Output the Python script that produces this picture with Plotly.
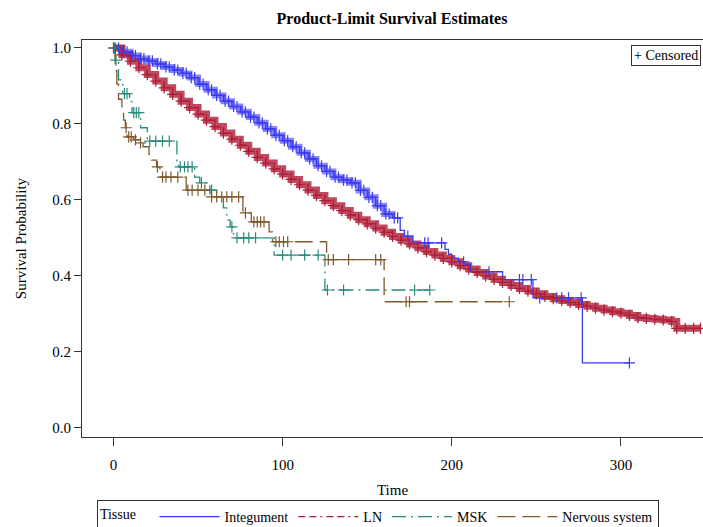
import plotly.graph_objects as go

# ---------------- data ----------------
# Integument (blue)
integ_t = [0, 5, 10, 15, 20, 25, 30, 35, 40, 45, 50, 55, 60, 65, 70, 75, 80, 85, 90, 95,
           100, 105, 110, 115, 120, 125, 130, 135, 140, 145, 150, 155, 160, 165, 169.5,
           172, 177, 196, 198, 200, 204, 208, 211, 230, 248, 277.2, 305]
integ_s = [1.0, 0.99, 0.98, 0.972, 0.966, 0.958, 0.95, 0.942, 0.933, 0.922, 0.905, 0.89,
           0.875, 0.86, 0.846, 0.832, 0.818, 0.803, 0.787, 0.77, 0.756, 0.74, 0.724, 0.708,
           0.69, 0.675, 0.66, 0.652, 0.645, 0.625, 0.607, 0.585, 0.563, 0.553, 0.52,
           0.505, 0.487, 0.47, 0.457, 0.447, 0.437, 0.43, 0.411, 0.39, 0.342, 0.171, 0.171]
integ_cens = [1, 3, 6, 8, 11, 13, 16, 18, 21, 23, 26, 28, 31, 33, 36, 38, 41, 43, 46, 48,
              51, 53, 56, 58, 61, 63, 66, 68, 71, 73, 76, 78, 81, 83, 86, 88, 91, 93, 96,
              98, 101, 103, 106, 108, 111, 113, 116, 118, 121, 123, 126, 128, 131, 133,
              136, 138, 141, 143, 146, 148, 151, 153, 156, 158, 161, 163, 166, 168, 174,
              184, 186, 194, 207, 222, 240, 242, 247, 252, 262, 265, 269, 276.5, 305]
integ_dense_n = 34  # number of leading points inside the densely censored stretch

# LN (red)
ln_t = [0, 5, 10, 15, 20, 25, 30, 35, 40, 45, 50, 55, 60, 65, 70, 75, 80, 85, 90, 95,
        100, 105, 110, 115, 120, 125, 130, 135, 140, 145, 150, 155, 160, 165, 170, 175,
        180, 185, 190, 195, 200, 205, 210, 215, 220, 225, 230, 235, 240, 245, 250, 255,
        260, 265, 270, 275, 280, 285, 290, 295, 300, 305, 310, 315, 320, 325, 330, 333,
        338, 343, 347]
ln_s = [1.0, 0.982, 0.965, 0.948, 0.93, 0.913, 0.895, 0.878, 0.86, 0.843, 0.826, 0.81,
        0.793, 0.776, 0.76, 0.744, 0.728, 0.712, 0.697, 0.682, 0.668, 0.654, 0.64, 0.626,
        0.612, 0.598, 0.585, 0.572, 0.56, 0.548, 0.537, 0.526, 0.515, 0.504, 0.494, 0.484,
        0.474, 0.464, 0.455, 0.446, 0.437, 0.427, 0.418, 0.409, 0.4, 0.391, 0.383, 0.375,
        0.367, 0.36, 0.353, 0.346, 0.34, 0.335, 0.33, 0.325, 0.32, 0.315, 0.31, 0.306,
        0.302, 0.296, 0.29, 0.288, 0.286, 0.284, 0.28, 0.262, 0.262, 0.262, 0.262]

# MSK (teal)
msk_t = [0, 1, 3, 5.5, 9.5, 11, 16, 20, 37.5, 38.5, 48, 51, 57, 61, 65, 67, 69, 71, 95,
         125, 187]
msk_s = [1.0, 0.968, 0.916, 0.88, 0.858, 0.83, 0.79, 0.755, 0.697, 0.687, 0.66, 0.645,
         0.626, 0.608, 0.579, 0.547, 0.529, 0.5, 0.455, 0.363, 0.363]
msk_cens = [0.5, 1.5, 6.5, 8, 12, 13.5, 15, 21.5, 25, 29, 33, 39.5, 42, 44, 46.5, 52, 58,
            70, 73, 77, 80, 84, 100, 105, 113, 121, 126.5, 136, 178, 187]

# Nervous system (brown)
ns_t = [0, 1, 2, 3, 5, 6, 7, 8, 12, 15.5, 17.5, 21, 22.5, 25.5, 27.5, 43, 57, 76.5,
        81.5, 92, 94, 126, 160, 234]
ns_s = [1.0, 0.94, 0.905, 0.865, 0.83, 0.81, 0.79, 0.766, 0.758, 0.75, 0.74, 0.72,
        0.705, 0.687, 0.66, 0.626, 0.608, 0.566, 0.542, 0.516, 0.49, 0.443, 0.332, 0.332]
ns_cens = [7.5, 9, 10.5, 13, 16, 26, 29, 31, 34, 38, 44, 46.5, 50, 54, 58, 61, 64, 67,
           70, 74, 78, 83, 85, 87, 89, 96, 98, 100.5, 103, 127, 130, 139, 155, 158, 173,
           175, 234]

x_ticks = [0, 100, 200, 300]
y_ticks = [0.0, 0.2, 0.4, 0.6, 0.8, 1.0]

FONT = "Liberation Serif"
C_BLUE = "#3a3af2"
C_RED = "#b01c36"
C_TEAL = "#2a8a7c"
C_BROWN = "#7f5a2c"


def step_val(ts, ss, t):
    v = ss[0]
    for ti, si in zip(ts, ss):
        if ti <= t:
            v = si
        else:
            break
    return v


fig = go.Figure()

# thick bands where censoring marks are so dense they merge
fig.add_trace(go.Scatter(x=integ_t[:integ_dense_n], y=integ_s[:integ_dense_n], mode="lines",
                         line_shape="hv", line=dict(color=C_BLUE, width=6), opacity=0.6,
                         showlegend=False, hoverinfo="skip"))
fig.add_trace(go.Scatter(x=ln_t, y=ln_s, mode="lines", line_shape="hv",
                         line=dict(color=C_RED, width=7), opacity=0.8,
                         showlegend=False, hoverinfo="skip"))

series = [
    ("Integument", integ_t, integ_s, C_BLUE, "solid", integ_cens),
    ("LN", ln_t, ln_s, C_RED, "7px,4px,7px,4px,2px,4px", ln_t),
    ("MSK", msk_t, msk_s, C_TEAL, "14px,5px,2px,5px", msk_cens),
    ("Nervous system", ns_t, ns_s, C_BROWN, "18px,7px", ns_cens),
]

for name, ts, ss, col, dash, cens in series:
    fig.add_trace(go.Scatter(x=ts, y=ss, mode="lines", line_shape="hv", name=name,
                             line=dict(color=col, width=1.3, dash=dash)))
for name, ts, ss, col, dash, cens in series:
    cy = [step_val(ts, ss, c) for c in cens]
    fig.add_trace(go.Scatter(x=cens, y=cy, mode="markers", showlegend=False,
                             marker=dict(symbol="cross-thin", size=8,
                                         line=dict(width=1.2, color=col))))

fig.update_layout(
    width=703, height=527,
    margin=dict(l=82, r=0, t=40, b=90, autoexpand=False),
    paper_bgcolor="white", plot_bgcolor="white",
    font=dict(family=FONT, size=15, color="black"),
    title=dict(text="<b>Product-Limit Survival Estimates</b>", x=0.5576, xanchor="center",
               y=0.966, yanchor="middle", font=dict(family=FONT, size=16)),
    showlegend=True,
    legend=dict(orientation="h", x=0.024, xanchor="left", y=-0.159, yanchor="top",
                title=dict(text="Tissue   ", font=dict(family=FONT, size=14)),
                font=dict(family=FONT, size=14), bordercolor="#333", borderwidth=1,
                itemwidth=60, tracegroupgap=0),
)
fig.update_xaxes(range=[-18.6, 348.5], tickvals=x_ticks, ticks="outside", ticklen=8,
                 tickcolor="#333", showline=True, linecolor="#333", linewidth=1,
                 mirror=True, showgrid=False, zeroline=False, ticklabelstandoff=6,
                 title=dict(text="Time", font=dict(family=FONT, size=15), standoff=12),
                 tickfont=dict(family=FONT, size=15))
fig.update_yaxes(range=[-0.024, 1.021], tickvals=y_ticks, tickformat=".1f", ticks="outside",
                 ticklen=7, tickcolor="#333", showline=True, linecolor="#333", linewidth=1,
                 mirror=True, showgrid=False, zeroline=False,
                 title=dict(text="Survival Probability", font=dict(family=FONT, size=15),
                            standoff=22),
                 tickfont=dict(family=FONT, size=15))

fig.add_annotation(text="+ Censored", xref="paper", yref="paper", x=0.997, y=0.987,
                   xanchor="right", yanchor="top", showarrow=False,
                   font=dict(family=FONT, size=14), bordercolor="#333", borderwidth=1,
                   borderpad=2, bgcolor="white")

fig.write_html("out.html", config={"displayModeBar": False},
               post_script="document.body.style.margin='0';"
                           "document.body.style.overflow='hidden';")
